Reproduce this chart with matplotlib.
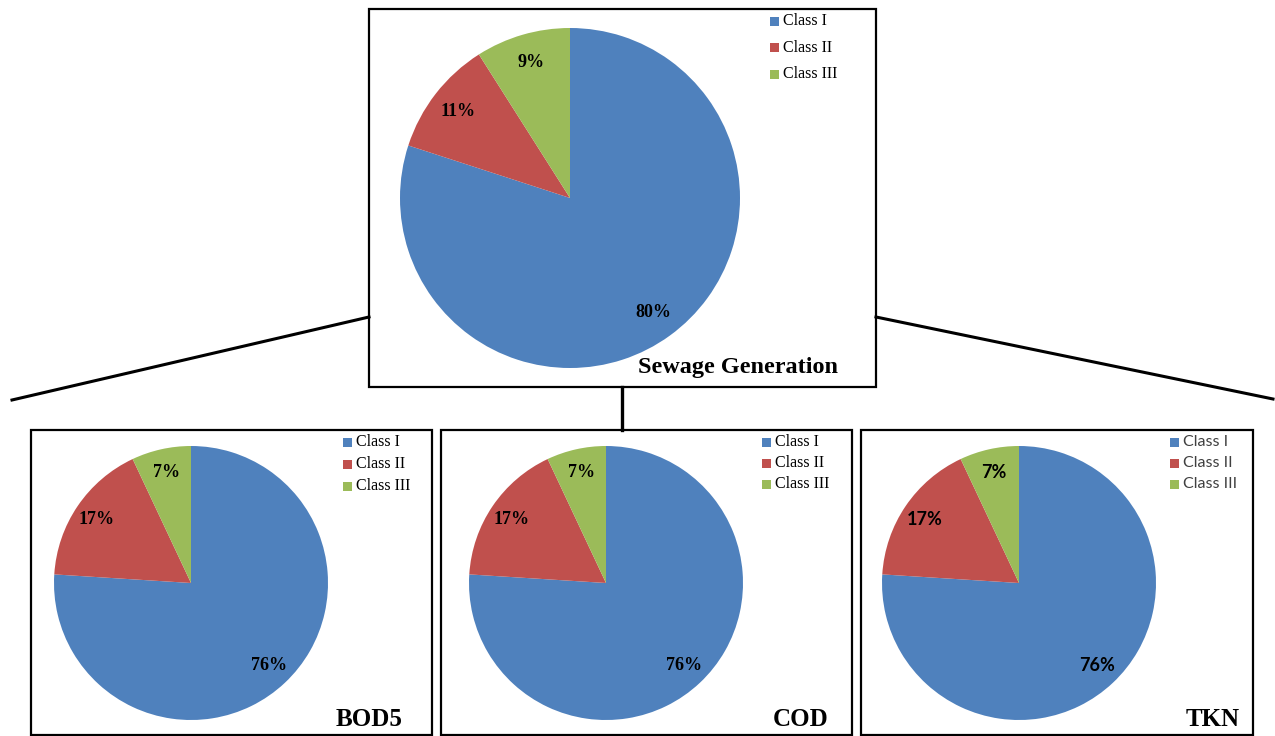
import matplotlib.pyplot as plt
from matplotlib.patches import Rectangle
from matplotlib.lines import Line2D

W, H = 1275, 736

classes = ['Class I', 'Class II', 'Class III']
colors = ['#4f81bd', '#c0504d', '#9bbb59']

sewage = [80, 11, 9]
bod5 = [76, 17, 7]
cod = [76, 17, 7]
tkn = [76, 17, 7]

SERIF = 'Liberation Serif'
SANS = 'Lato'

fig = plt.figure(figsize=(W / 100, H / 100), dpi=100)
bg = fig.add_axes([0, 0, 1, 1])
bg.set_xlim(0, W)
bg.set_ylim(H, 0)
bg.axis('off')

# panel frames (pixels: x0, y0, x1, y1)
frames = [(369, 9, 876, 387), (31, 430, 432, 735), (441, 430, 852, 735), (861, 430, 1253, 735)]
for x0, y0, x1, y1 in frames:
    bg.add_patch(Rectangle((x0, y0), x1 - x0, y1 - y0, fill=False, ec='black', lw=1.6))

# connector lines
bg.add_line(Line2D([12, 369], [400, 317], color='black', lw=2.2))
bg.add_line(Line2D([876, 1273], [317, 399], color='black', lw=2.2))
bg.add_line(Line2D([622, 622], [387, 430], color='black', lw=2.4))


def draw_pie(vals, cx, cy, r, title, title_xy, leg_xy, leg_gap, font, leg_color, titlesize):
    ax = fig.add_axes([(cx - r) / W, 1 - (cy + r) / H, 2 * r / W, 2 * r / H])
    wedges, _, autotexts = ax.pie(vals, colors=colors, startangle=90, counterclock=False,
                                  autopct='%d%%', pctdistance=0.83,
                                  wedgeprops=dict(linewidth=0))
    for t in autotexts:
        t.set_fontfamily(font)
        t.set_fontweight('bold')
        t.set_fontsize(13)
    ax.set_xlim(-1, 1)
    ax.set_ylim(-1, 1)
    ax.set_aspect('equal')
    bg.text(title_xy[0], title_xy[1], title, fontfamily=SERIF, fontweight='bold',
            fontsize=titlesize, ha='right', va='center')
    lx, ly = leg_xy
    for i, c in enumerate(classes):
        y = ly + i * leg_gap
        bg.add_patch(Rectangle((lx, y - 4.5), 9, 9, fc=colors[i], ec='none'))
        bg.text(lx + 13, y, c, fontfamily=font, fontsize=11.5, color=leg_color,
                ha='left', va='center')


draw_pie(sewage, 570, 198, 170, 'Sewage Generation', (838, 367), (770, 21), 26.5, SERIF, 'black', 17.5)
draw_pie(bod5, 191, 583, 137, 'BOD5', (403, 720), (343, 442), 22, SERIF, 'black', 18)
draw_pie(cod, 606, 583, 137, 'COD', (828, 720), (762, 442), 21, SERIF, 'black', 18)
draw_pie(tkn, 1019, 583, 137, 'TKN', (1240, 720), (1170, 442), 21, SANS, '#404040', 18)

fig.savefig('out.png', dpi=100)
